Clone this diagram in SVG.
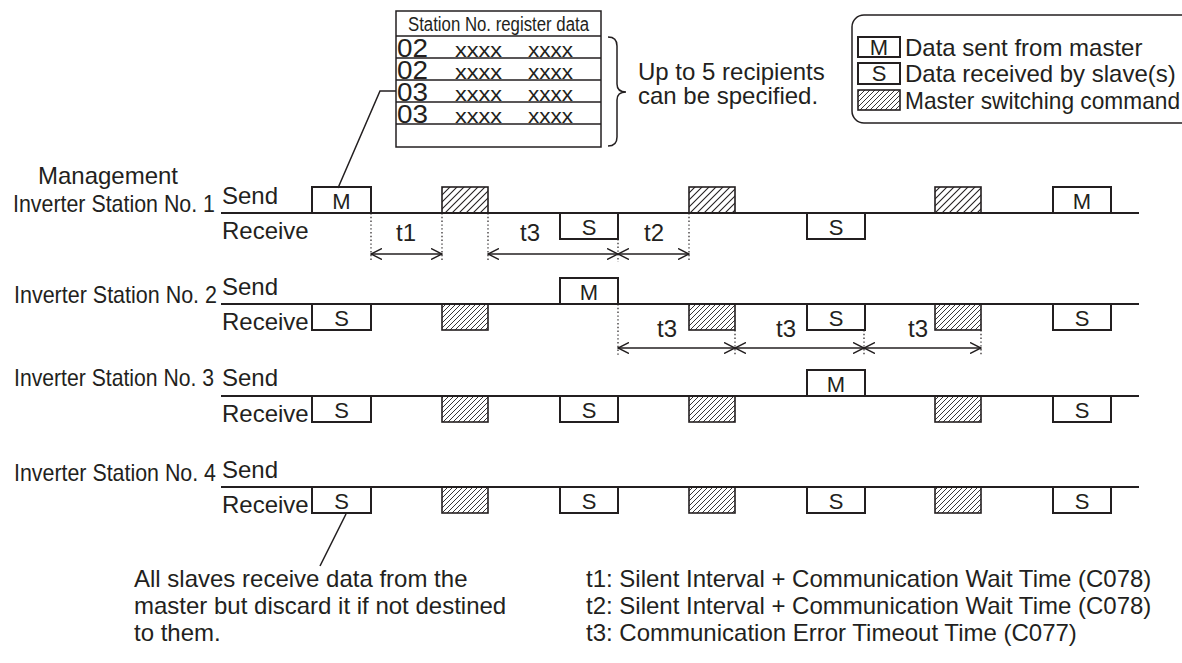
<svg xmlns="http://www.w3.org/2000/svg" width="1182" height="663" viewBox="0 0 1182 663">
<style>
text{font-family:"Liberation Sans",Arial,sans-serif;fill:#231f20;font-size:24px}
.c{text-anchor:middle}
.box{fill:#fff;stroke:#231f20;stroke-width:2}
.hc{fill:url(#hatchC);stroke:#231f20;stroke-width:1.6}
.hf{fill:url(#hatchF);stroke:#231f20;stroke-width:1.6}
.ln{stroke:#231f20;stroke-width:2;fill:none}
.dot{stroke:#231f20;stroke-width:1.2;stroke-dasharray:1.4 2.4;fill:none}
.dim{stroke:#231f20;stroke-width:1.5;fill:none;marker-start:url(#ah);marker-end:url(#ah)}
.lead{stroke:#231f20;stroke-width:1.5;fill:none}
.thin{stroke:#231f20;stroke-width:1.5;fill:none}
.num{font-size:25px}
.xx{font-size:21px}
</style>
<defs>
<pattern id="hatchC" patternUnits="userSpaceOnUse" width="7" height="7">
<path d="M0,7 L7,0 M-1,1 L1,-1 M6,8 L8,6" stroke="#231f20" stroke-width="1.1"/>
</pattern>
<pattern id="hatchF" patternUnits="userSpaceOnUse" width="5" height="5">
<path d="M0,5 L5,0 M-1,1 L1,-1 M4,6 L6,4" stroke="#231f20" stroke-width="0.9"/>
</pattern>
<marker id="ah" viewBox="0 0 12 12" refX="11" refY="6" markerWidth="12" markerHeight="12" markerUnits="userSpaceOnUse" orient="auto-start-reverse">
<path d="M0,0.5 L11,6 L0,11.5" fill="none" stroke="#231f20" stroke-width="1.5"/>
</marker>
</defs>

<g id="register-table">
<rect x="396" y="11" width="205" height="136" fill="#fff" stroke="#231f20" stroke-width="1.5"/>
<path class="thin" d="M396,36 H601 M396,58 H601 M396,80 H601 M396,102 H601 M396,124 H601"/>
<text x="408" y="31" style="font-size:20px" textLength="181" lengthAdjust="spacingAndGlyphs">Station No. register data</text>
<text class="num" x="397" y="57" textLength="31" lengthAdjust="spacingAndGlyphs">02</text>
<text class="xx" x="455" y="57" textLength="47" lengthAdjust="spacingAndGlyphs">xxxx</text>
<text class="xx" x="528" y="57" textLength="45" lengthAdjust="spacingAndGlyphs">xxxx</text>
<text class="num" x="397" y="79" textLength="31" lengthAdjust="spacingAndGlyphs">02</text>
<text class="xx" x="455" y="79" textLength="47" lengthAdjust="spacingAndGlyphs">xxxx</text>
<text class="xx" x="528" y="79" textLength="45" lengthAdjust="spacingAndGlyphs">xxxx</text>
<text class="num" x="397" y="101" textLength="31" lengthAdjust="spacingAndGlyphs">03</text>
<text class="xx" x="455" y="101" textLength="47" lengthAdjust="spacingAndGlyphs">xxxx</text>
<text class="xx" x="528" y="101" textLength="45" lengthAdjust="spacingAndGlyphs">xxxx</text>
<text class="num" x="397" y="123" textLength="31" lengthAdjust="spacingAndGlyphs">03</text>
<text class="xx" x="455" y="123" textLength="47" lengthAdjust="spacingAndGlyphs">xxxx</text>
<text class="xx" x="528" y="123" textLength="45" lengthAdjust="spacingAndGlyphs">xxxx</text>
</g>

<g id="recipients-note">
<path class="thin" d="M608,37 Q617,37 617,46 L617,84 Q617,92 626,92 Q617,92 617,100 L617,137 Q617,146 608,146"/>
<text x="638" y="80">Up to 5 recipients</text>
<text x="638" y="104">can be specified.</text>
</g>

<g id="legend">
<rect x="852" y="15" width="360" height="108" rx="12" fill="#fff" stroke="#231f20" stroke-width="1.5"/>
<rect class="box" x="858" y="37" width="42" height="20" stroke-width="1.6"/>
<text class="c" x="879" y="55" style="font-size:22px">M</text>
<text x="905" y="56">Data sent from master</text>
<rect class="box" x="858" y="63" width="42" height="21" stroke-width="1.6"/>
<text class="c" x="879" y="81" style="font-size:22px">S</text>
<text x="905" y="82">Data received by slave(s)</text>
<rect class="hf" x="858" y="90" width="42" height="20"/>
<text x="905" y="109" textLength="275" lengthAdjust="spacingAndGlyphs">Master switching command</text>
</g>

<g id="station1">
<text class="c" x="108" y="184">Management</text>
<text x="13" y="212" textLength="202" lengthAdjust="spacingAndGlyphs">Inverter Station No. 1</text>
<text x="222" y="204">Send</text>
<text x="222" y="239">Receive</text>
<line class="ln" x1="221" y1="213" x2="1139" y2="213"/>
<rect class="box" x="312" y="187" width="59" height="26"/><text class="c" x="341.5" y="209" style="font-size:22px">M</text>
<rect class="hc" x="442" y="187" width="46" height="26"/>
<rect class="box" x="560" y="213" width="58" height="26"/><text class="c" x="589" y="235" style="font-size:22px">S</text>
<rect class="hc" x="689" y="187" width="46" height="26"/>
<rect class="box" x="807" y="213" width="58" height="26"/><text class="c" x="836" y="235" style="font-size:22px">S</text>
<rect class="hc" x="935" y="187" width="46" height="26"/>
<rect class="box" x="1053" y="187" width="58" height="26"/><text class="c" x="1082" y="209" style="font-size:22px">M</text>
</g>

<g id="station2">
<text x="14" y="303" textLength="203" lengthAdjust="spacingAndGlyphs">Inverter Station No. 2</text>
<text x="222" y="295">Send</text>
<text x="222" y="330">Receive</text>
<line class="ln" x1="221" y1="304" x2="1139" y2="304"/>
<rect class="box" x="312" y="304" width="59" height="26"/><text class="c" x="341.5" y="326" style="font-size:22px">S</text>
<rect class="hf" x="442" y="304" width="46" height="26"/>
<rect class="box" x="560" y="278" width="58" height="26"/><text class="c" x="589" y="300" style="font-size:22px">M</text>
<rect class="hf" x="689" y="304" width="46" height="26"/>
<rect class="box" x="807" y="304" width="58" height="26"/><text class="c" x="836" y="326" style="font-size:22px">S</text>
<rect class="hf" x="935" y="304" width="46" height="26"/>
<rect class="box" x="1053" y="304" width="58" height="26"/><text class="c" x="1082" y="326" style="font-size:22px">S</text>
</g>

<g id="station3">
<text x="14" y="386" textLength="200" lengthAdjust="spacingAndGlyphs">Inverter Station No. 3</text>
<text x="222" y="386">Send</text>
<text x="222" y="422">Receive</text>
<line class="ln" x1="221" y1="396" x2="1139" y2="396"/>
<rect class="box" x="312" y="396" width="59" height="26"/><text class="c" x="341.5" y="418" style="font-size:22px">S</text>
<rect class="hf" x="442" y="396" width="46" height="26"/>
<rect class="box" x="560" y="396" width="58" height="26"/><text class="c" x="589" y="418" style="font-size:22px">S</text>
<rect class="hf" x="689" y="396" width="46" height="26"/>
<rect class="box" x="807" y="370" width="58" height="26"/><text class="c" x="836" y="392" style="font-size:22px">M</text>
<rect class="hf" x="935" y="396" width="46" height="26"/>
<rect class="box" x="1053" y="396" width="58" height="26"/><text class="c" x="1082" y="418" style="font-size:22px">S</text>
</g>

<g id="station4">
<text x="14" y="481" textLength="202" lengthAdjust="spacingAndGlyphs">Inverter Station No. 4</text>
<text x="222" y="478">Send</text>
<text x="222" y="513">Receive</text>
<line class="ln" x1="221" y1="487" x2="1139" y2="487"/>
<rect class="box" x="312" y="487" width="59" height="26"/><text class="c" x="341.5" y="509" style="font-size:22px">S</text>
<rect class="hf" x="442" y="487" width="46" height="26"/>
<rect class="box" x="560" y="487" width="58" height="26"/><text class="c" x="589" y="509" style="font-size:22px">S</text>
<rect class="hf" x="689" y="487" width="46" height="26"/>
<rect class="box" x="807" y="487" width="58" height="26"/><text class="c" x="836" y="509" style="font-size:22px">S</text>
<rect class="hf" x="935" y="487" width="46" height="26"/>
<rect class="box" x="1053" y="487" width="58" height="26"/><text class="c" x="1082" y="509" style="font-size:22px">S</text>
</g>

<g id="connectors">
<polyline class="lead" points="396,91 380,91 338,188"/>
<line class="lead" x1="346" y1="514" x2="320" y2="566"/>
<path class="dot" d="M371,213 V262 M442,213 V262 M488,213 V262 M618,239 V262 M689,213 V262"/>
<line class="dim" x1="371" y1="254" x2="442" y2="254"/>
<line class="dim" x1="488" y1="254" x2="618" y2="254"/>
<line class="dim" x1="618" y1="254" x2="689" y2="254"/>
<path class="dot" d="M618,304 V356 M735,330 V356 M864,330 V356 M981,330 V356"/>
<line class="dim" x1="618" y1="348" x2="735" y2="348"/>
<line class="dim" x1="735" y1="348" x2="864" y2="348"/>
<line class="dim" x1="864" y1="348" x2="981" y2="348"/>
</g>

<g id="timing-labels">
<text class="c" x="406" y="241">t1</text>
<text class="c" x="530" y="241">t3</text>
<text class="c" x="654" y="241">t2</text>
<text class="c" x="667" y="337">t3</text>
<text class="c" x="786" y="337">t3</text>
<text class="c" x="918" y="337">t3</text>
</g>

<g id="notes">
<text x="134" y="587">All slaves receive data from the</text>
<text x="134" y="614">master but discard it if not destined</text>
<text x="134" y="641">to them.</text>
<text x="586" y="587">t1: Silent Interval + Communication Wait Time (C078)</text>
<text x="586" y="614">t2: Silent Interval + Communication Wait Time (C078)</text>
<text x="586" y="641">t3: Communication Error Timeout Time (C077)</text>
</g>
</svg>
